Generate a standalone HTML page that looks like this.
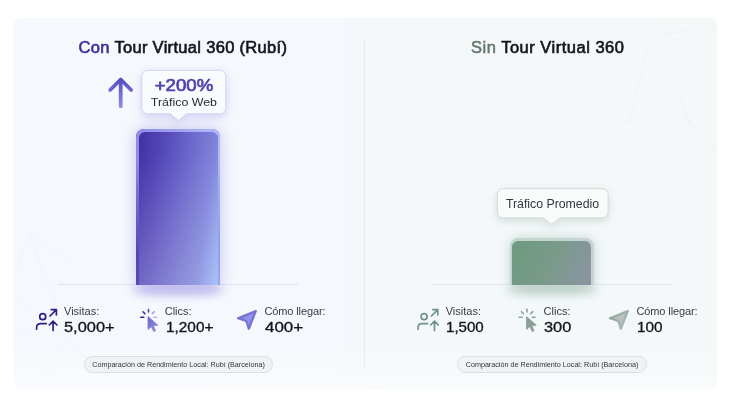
<!DOCTYPE html>
<html lang="es">
<head>
<meta charset="utf-8">
<title>Comparación Tour Virtual 360</title>
<style>
*{box-sizing:border-box;margin:0;padding:0}
html,body{width:730px;height:407px;background:#fff;overflow:hidden}
body{font-family:"Liberation Sans",sans-serif;position:relative;color:#15151c}
.card{position:absolute;left:14px;top:18px;width:703px;height:370px;border-radius:8px;
 background:linear-gradient(180deg,rgba(255,255,255,0) 88%,rgba(255,255,255,.4) 100%),linear-gradient(90deg,#f5f9fd 0%,#f5f8fc 46%,#f4f8fa 54%,#f4f8f9 100%);
 box-shadow:0 1px 3px rgba(120,130,150,.05);overflow:hidden}
.divider{position:absolute;left:364.2px;top:40px;width:1.2px;height:327px;background:#e8ebf1;border-radius:1px}
.abs{position:absolute;white-space:nowrap}
.title{font-weight:400;font-size:16.5px;line-height:20px;top:37px;letter-spacing:.31px;-webkit-text-stroke:.62px #15151c}
.sx{display:inline-block;transform-origin:0 50%}
.title .c{color:#3f2f96;-webkit-text-stroke-color:#3f2f96}
.title .s{color:#66796f;-webkit-text-stroke:.55px #66796f}
.base{position:absolute;height:1px;background:#e0e1f0;top:284px}
.bar{position:absolute}
.lbl{font-size:11px;line-height:12px;color:#3a3a44}
.val{font-size:14.5px;line-height:16px;font-weight:400;color:#14141a;-webkit-text-stroke:.32px #14141a;transform:scaleX(1.13);transform-origin:0 50%}
.pill{position:absolute;height:16.6px;top:356.4px;border-radius:8.3px;border:1px solid #dcdfe6;background:#f0f2f6;
 font-size:7.2px;line-height:15px;text-align:center;color:#33353c;white-space:nowrap}
.tip{position:absolute;background:#f9fafe;border-radius:6px}
.ptr{position:absolute;width:10px;height:10px;transform:rotate(45deg);background:#f9fafe;border-radius:0 0 2px 0}
</style>
</head>
<body>
<div class="card">
 <svg style="position:absolute;left:-14px;top:-18px" width="730" height="407" viewBox="0 0 730 407" fill="none" stroke="#5b6b80" stroke-opacity=".03" stroke-width="1">
  <path d="M652 18L695 60M716 26L648 37L562 86M650 37L629 124M581 94L629 124L676 86L707 170M610 157L676 107L716 150"/>
  <path d="M14 275L29 235L57 307M14 293L66 340L40 388M29 235L75 262M57 307L14 340M66 340L120 388"/>
 </svg>
 <div style="position:absolute;left:120px;top:266px;width:88px;height:11px;border-radius:40%;background:rgba(120,105,220,.4);filter:blur(5px)"></div>
 <div style="position:absolute;left:494px;top:266px;width:88px;height:11px;border-radius:40%;background:rgba(110,150,130,.38);filter:blur(5px)"></div>
</div>
<div class="divider"></div>

<!-- LEFT -->
<div class="abs title" style="left:78.6px"><span class="c">Con</span> Tour Virtual 360 (Rubí)</div>

<div class="base" style="left:58px;width:240px"></div>
<div class="bar" id="barL" style="left:136px;top:129px;width:84px;height:156px;border-radius:8px 8px 0 0;
 background:linear-gradient(98deg,#4838aa 0%,#584abc 22%,#6d69ce 50%,#8084da 78%,#94acf4 100%);
 box-shadow:0 0 16px rgba(110,100,220,.36)">
 <div style="position:absolute;left:0;top:0;right:0;bottom:0;border-radius:8px 8px 0 0;background:linear-gradient(90deg,#8f8ae6 0%,#a0a3f0 50%,#b0b9f7 100%);-webkit-mask-image:linear-gradient(180deg,#000 0%,#000 20%,transparent 80%);mask-image:linear-gradient(180deg,#000 0%,#000 20%,transparent 80%)"></div>
 <div style="position:absolute;left:2.5px;top:2.5px;right:2.5px;bottom:0;border-radius:6px 6px 0 0;
 background:linear-gradient(180deg,rgba(255,255,255,0) 15%,rgba(255,255,255,.19) 100%),linear-gradient(98deg,#4030a4 0%,#5244b6 22%,#6964ca 50%,#7e84da 78%,#97b4f6 100%)"></div></div>

<svg class="abs" style="left:104px;top:72px" width="34" height="40" viewBox="0 0 34 40">
 <defs><linearGradient id="garr" x1="0" y1="0" x2="0" y2="1"><stop offset="0" stop-color="#594dc0"/><stop offset="1" stop-color="#8a8be2"/></linearGradient></defs>
 <path d="M16.7 34.2V7.6 M6.2 18L16.7 7.5L27.2 18" fill="none" stroke="url(#garr)" stroke-width="3.8" stroke-linecap="round" stroke-linejoin="round"/>
</svg>

<svg class="abs" style="left:0;top:0;filter:drop-shadow(0 3px 4px rgba(110,100,215,.26))" width="365" height="200" viewBox="0 0 365 200">
 <path d="M147.5 70.3H220.2a5.6 5.6 0 0 1 5.6 5.6V108.2a5.6 5.6 0 0 1 -5.6 5.6H186.2L179.5 119.8Q178.4 120.9 177.3 119.8L170.6 113.8H147.5a5.6 5.6 0 0 1 -5.6 -5.6V75.9a5.6 5.6 0 0 1 5.6 -5.6Z" fill="#fafbff" stroke="#d2d3f3" stroke-width="1"/>
</svg>
<div class="abs" style="left:141px;top:76px;width:85px;text-align:center;font-weight:400;font-size:16.5px;line-height:18px;color:#4f44ab;-webkit-text-stroke:.7px #4f44ab"><span class="sx" style="transform:scaleX(1.13);transform-origin:50% 50%">+200%</span></div>
<div class="abs" style="left:141px;top:95px;width:85px;text-align:center;font-size:11.6px;line-height:14px;color:#2a2a33"><span class="sx" style="transform:scaleX(1.07);transform-origin:50% 50%">Tráfico Web</span></div>

<div class="abs lbl" style="left:64px;top:305px">Visitas:</div>
<div class="abs val" style="left:64px;top:319px">5,000+</div>
<div class="abs lbl" style="left:164.7px;top:305px">Clics:</div>
<div class="abs val" style="left:165.7px;top:319px;transform:scaleX(1.06)">1,200+</div>
<div class="abs lbl" style="left:264.5px;top:305px;letter-spacing:-.12px">Cómo llegar:</div>
<div class="abs val" style="left:264.6px;top:319px;transform:scaleX(1.17)">400+</div>

<div class="pill" style="left:84px;width:189px">Comparación de Rendimiento Local: Rubí (Barcelona)</div>


<!-- ICONS -->
<svg class="abs" style="left:0;top:0" width="730" height="407" viewBox="0 0 730 407">
 <defs>
  <linearGradient id="gcur" x1="0" y1="0" x2="1" y2="1"><stop offset="0" stop-color="#6f68cf"/><stop offset="1" stop-color="#8f8fe2"/></linearGradient>
  <linearGradient id="gnav" x1="0" y1="0" x2="1" y2="1"><stop offset="0" stop-color="#7a75d6"/><stop offset=".5" stop-color="#9297e9"/><stop offset="1" stop-color="#837fdc"/></linearGradient>
  <linearGradient id="gnavr" x1="0" y1="0" x2="1" y2="1"><stop offset="0" stop-color="#a0b4ab"/><stop offset=".45" stop-color="#b9c2c1"/><stop offset="1" stop-color="#b3bbbc"/></linearGradient>
  <linearGradient id="gnavrs" gradientUnits="userSpaceOnUse" x1="238" y1="311" x2="256" y2="329"><stop offset="0" stop-color="#86a597"/><stop offset=".55" stop-color="#a2b2ad"/><stop offset="1" stop-color="#aeb7b6"/></linearGradient>
  
 </defs>
 <!-- left -->
 <g fill="none" stroke-width="1.7" stroke-linecap="round" stroke-linejoin="round" stroke="#2f2089">
   <circle cx="42.7" cy="316.7" r="3"/>
   <path d="M36.6 329.2V327.8Q36.6 323.7 40.7 323.7H46.2"/>
   <path d="M50 316L56.4 309.6M51.2 309.6H56.4V314.8"/>
   <path d="M53.1 330.4V321.3M49.3 325L53.1 321.2L56.9 325"/>
  </g>
 <g stroke-width="1.5" stroke-linecap="round" fill="none">
  <path d="M148.5 309.4V311.9" stroke="#4a3fae"/>
  <path d="M143 311.7L144.9 313.6" stroke="#3a2c96"/>
  <path d="M140.7 317.2H143.8" stroke="#35278f"/>
  <path d="M152.2 313.6L154.2 311.7" stroke="#9a9ce2"/>
  <path d="M153.8 317.2H156.6" stroke="#b3b8ec"/>
 </g>
 <path d="M148 316.6V329.4L151.3 326.6L153.8 331.6L155.6 330.7L153.2 325.8L157.8 325.2Z" fill="url(#gcur)" stroke="url(#gcur)" stroke-width=".8" stroke-linejoin="round"/>
 <path d="M255.8 311L238 318.2L246.3 321L248.8 328.8Z" fill="url(#gnav)" stroke="#7872d5" stroke-width="2.2" stroke-linejoin="round"/>
 <!-- right -->
 <g fill="none" stroke-width="1.7" stroke-linecap="round" stroke-linejoin="round" stroke="#729387" transform="translate(381.4 0)">
   <circle cx="42.7" cy="316.7" r="3"/>
   <path d="M36.6 329.2V327.8Q36.6 323.7 40.7 323.7H46.2"/>
   <path d="M50 316L56.4 309.6M51.2 309.6H56.4V314.8"/>
   <path d="M53.1 330.4V321.3M49.3 325L53.1 321.2L56.9 325"/>
  </g>
 <g stroke-width="1.6" stroke-linecap="round" fill="none" transform="translate(378.5 0)" stroke="#8ea49b">
  <path d="M148.5 309.4V311.9"/>
  <path d="M143 311.7L144.9 313.6"/>
  <path d="M140.7 317.2H143.8"/>
  <path d="M152.2 313.6L154.2 311.7"/>
  <path d="M153.8 317.2H156.6"/>
 </g>
 <path transform="translate(378.5 0)" d="M148 316.6V329.4L151.3 326.6L153.8 331.6L155.6 330.7L153.2 325.8L157.8 325.2Z" fill="#8aa097" stroke="#8aa097" stroke-width=".8" stroke-linejoin="round"/>
 <path transform="translate(372 0)" d="M255.8 311L238 318.2L246.3 321L248.8 328.8Z" fill="url(#gnavr)" stroke="url(#gnavrs)" stroke-width="2.2" stroke-linejoin="round"/>
</svg>

<!-- RIGHT -->
<div class="abs title" style="left:471px;letter-spacing:.5px"><span class="s">Sin</span> Tour Virtual 360</div>

<div class="base" style="left:431px;width:241px;background:#e0e4e8"></div>
<div class="bar" id="barR" style="left:509.6px;top:238.2px;width:84.4px;height:46.8px;border-radius:8px 8px 0 0;
 background:linear-gradient(100deg,#c0d6cc 0%,#c6d6d2 60%,#c9d1d6 100%);
 box-shadow:0 0 12px rgba(110,150,130,.33)">
 <div style="position:absolute;left:2.5px;top:2.5px;right:2.5px;bottom:0;border-radius:6px 6px 0 0;
 background:linear-gradient(115deg,#6c9a7f 0%,#7a9a8a 50%,#8c94a4 100%)"></div></div>

<svg class="abs" style="left:365px;top:150px;filter:drop-shadow(0 3px 4px rgba(100,130,120,.22))" width="365" height="100" viewBox="365 150 365 100">
 <path d="M502.9 188.7H602.5a5.6 5.6 0 0 1 5.6 5.6V212.3a5.6 5.6 0 0 1 -5.6 5.6H560L552.9 223.6Q551.7 224.6 550.5 223.6L543.4 217.9H502.9a5.6 5.6 0 0 1 -5.6 -5.6V194.3a5.6 5.6 0 0 1 5.6 -5.6Z" fill="#f9fbfb" stroke="#d0dbd7" stroke-width="1"/>
</svg>
<div class="abs" style="left:497px;top:195.8px;width:111px;text-align:center;font-size:12.3px;line-height:16px;color:#34363e">Tráfico Promedio</div>

<div class="abs lbl" style="left:445.7px;top:305px">Visitas:</div>
<div class="abs val" style="left:445.7px;top:319px;transform:scaleX(1.04)">1,500</div>
<div class="abs lbl" style="left:543.6px;top:305px">Clics:</div>
<div class="abs val" style="left:543.8px;top:319px">300</div>
<div class="abs lbl" style="left:636.4px;top:305px;letter-spacing:-.1px">Cómo llegar:</div>
<div class="abs val" style="left:636.7px;top:319px;transform:scaleX(1.06)">100</div>

<div class="pill" style="left:457px;width:190px">Comparación de Rendimiento Local: Rubí (Barcelona)</div>
</body>
</html>
